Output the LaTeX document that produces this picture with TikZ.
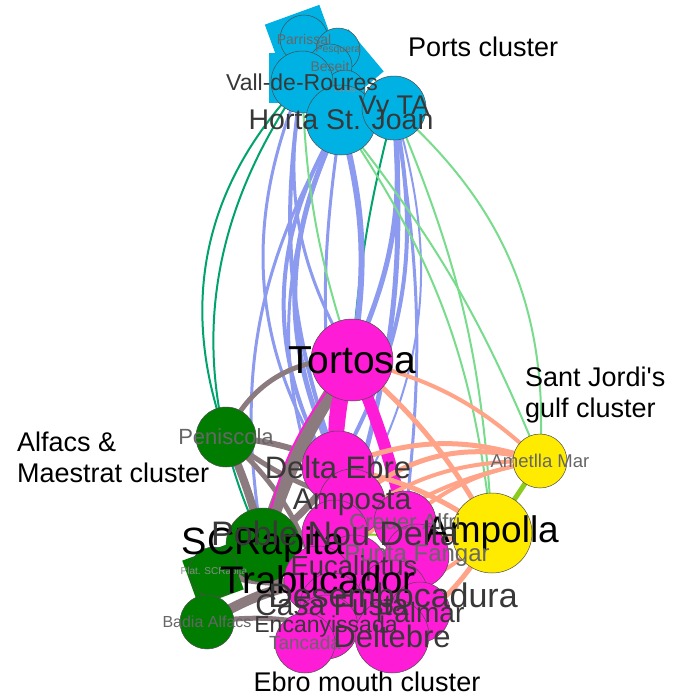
\documentclass[tikz,border=0pt]{standalone}
\usepackage{fontspec}
\setmainfont{Liberation Sans}
\usetikzlibrary{positioning}

\begin{document}
\begin{tikzpicture}[x=1pt,y=1pt,
  vtx/.style={circle,draw=black!70,line width=0.5pt,inner sep=0pt,minimum size=#1},
  sqv/.style={rectangle,inner sep=0pt,minimum size=#1},
  lbl/.style={font=\fontsize{#1}{#1}\selectfont,inner sep=0pt},
  title/.style={font=\fontsize{27}{31}\selectfont,align=left,inner sep=0pt,text=black},
  lnk/.style={line width=#1}
]
% colours of the four clusters and of the links
\definecolor{portv}{HTML}{00B2E3}
\definecolor{magv}{HTML}{FF1CD6}
\definecolor{alfv}{HTML}{007D00}
\definecolor{gulfv}{HTML}{FFEB00}
\definecolor{bluel}{HTML}{8C9BEF}
\definecolor{teall}{HTML}{00A36C}
\definecolor{lgreenl}{HTML}{78DC8C}
\definecolor{grayl}{HTML}{8C7B7E}
\definecolor{salmonl}{HTML}{FFA488}
\definecolor{limel}{HTML}{8ACB1E}
\definecolor{dgray}{HTML}{383838}
\definecolor{mgray}{HTML}{666666}
\definecolor{lgray}{HTML}{8C8C8C}

\fill[white] (0,0) rectangle (686,-697);
\useasboundingbox (0,0) rectangle (686,-697);

% vertex positions
% Ports cluster
\coordinate (parrissal) at (304,-39);
\coordinate (pesquera) at (338,-50);
\coordinate (beseit) at (330,-66);
\coordinate (arnes) at (345,-90);
\coordinate (vall) at (302,-82);
\coordinate (horta) at (341,-120);
\coordinate (vyta) at (394,-108);
% Alfacs & Maestrat cluster
\coordinate (peniscola) at (226,-437);
\coordinate (scrapita) at (263,-545);
\coordinate (platscr) at (214,-572);
\coordinate (badia) at (207,-622);
% Sant Jordi's gulf cluster
\coordinate (ametlla) at (540,-461);
\coordinate (ampolla) at (492,-533);
% Ebro mouth cluster
\coordinate (tortosa) at (352,-360);
\coordinate (deltaebre) at (338,-467);
\coordinate (amposta) at (352,-502);
\coordinate (noudelta) at (335,-533);
\coordinate (creuer) at (405,-522);
\coordinate (puntafangar) at (417,-556);
\coordinate (eucaliptus) at (354,-568);
\coordinate (trabucador) at (318,-580);
\coordinate (desembocadura) at (393,-595);
\coordinate (casafusta) at (332,-605);
\coordinate (palmar) at (420,-612);
\coordinate (encanyissada) at (326,-627);
\coordinate (tancada) at (305,-643);
\coordinate (deltebre) at (392,-636);

% links Ports -> Alfacs (dark green)
\foreach \a/\b/\bd in {vall/peniscola/-32,vall/scrapita/-30,vyta/tortosa/-5} {
  \draw[teall,lnk=2] (\a) to[bend left=\bd] (\b);
}
% links Ports -> Ebro mouth (blue)
\foreach \a/\b/\w/\bd in {horta/deltaebre/5/-26,horta/amposta/4/-34,vall/deltaebre/4/-14,
  horta/tortosa/6/12,vyta/tortosa/5/15,vyta/deltaebre/4/20,horta/noudelta/3/-24,
  vyta/amposta/5/10,horta/scrapita/3/-20,vyta/creuer/3/8,vall/tortosa/3/-20,vyta/noudelta/2/25,
  horta/deltaebre/3/-8,vall/amposta/3/-30} {
  \draw[bluel,lnk=\w] (\a) to[bend left=\bd] (\b);
}
% links Ports -> gulf (light green)
\foreach \a/\b/\bd in {vyta/ametlla/26,vyta/ampolla/10,vall/tortosa/-8,horta/ampolla/14,horta/ametlla/8} {
  \draw[lgreenl,lnk=2] (\a) to[bend left=\bd] (\b);
}
% links Alfacs -> Ebro mouth (grey)
\foreach \a/\b/\w/\bd in {tortosa/peniscola/5/-35,tortosa/scrapita/14/-8,peniscola/deltaebre/6/10,
  peniscola/amposta/5/-10,peniscola/scrapita/8/5,peniscola/trabucador/5/15,scrapita/deltaebre/7/-10,
  platscr/trabucador/8/-10,badia/trabucador/10/10,badia/encanyissada/5/10} {
  \draw[grayl,lnk=\w] (\a) to[bend left=\bd] (\b);
}
% links inside Ebro mouth (magenta)
\foreach \a/\b/\w/\bd in {tortosa/amposta/12/-25,tortosa/creuer/12/5,tortosa/deltaebre/8/-5,tortosa/scrapita/2/-15} {
  \draw[magv,lnk=\w] (\a) to[bend left=\bd] (\b);
}
% links Ebro mouth -> gulf (salmon)
\foreach \a/\b/\w/\bd in {deltaebre/ametlla/5/20,tortosa/ametlla/4/15,amposta/ametlla/5/28,
  noudelta/ametlla/4/20,deltaebre/ampolla/5/12,tortosa/ampolla/5/10,eucaliptus/ampolla/4/8,
  deltebre/ampolla/5/-15,desembocadura/ampolla/4/-10,trabucador/ametlla/4/18,creuer/ametlla/4/15} {
  \draw[salmonl,lnk=\w] (\a) to[bend left=\bd] (\b);
}
% links inside gulf (lime)
\draw[limel,lnk=5] (ametlla) -- (ampolla);
\draw[limel,lnk=2] (ampolla) to[bend left=3] (noudelta);

% square vertices
\node[sqv=58,fill=portv,rotate=20] (sqport1) at (302,-42) {};
\node[sqv=55,fill=portv,rotate=40] (sqport2) at (345,-68) {};
\node[sqv=50,fill=portv] (sqport3) at (294,-78) {};
\node[sqv=48,fill=alfv,rotate=20] (sqalf) at (213,-575) {};

% round vertices
\foreach \n/\d in {parrissal/48,pesquera/44,beseit/44,arnes/40,vall/62,horta/70,vyta/64} {
  \node[vtx=\d,fill=portv] (\n-v) at (\n) {};
}
\foreach \n/\d in {peniscola/60,scrapita/74,platscr/50,badia/54} {
  \node[vtx=\d,fill=alfv] (\n-v) at (\n) {};
}
\foreach \n/\d in {tortosa/82,deltaebre/72,amposta/66,creuer/62,noudelta/66,puntafangar/64,
  eucaliptus/66,trabucador/68,desembocadura/70,casafusta/64,palmar/60,encanyissada/64,tancada/60,deltebre/74} {
  \node[vtx=\d,fill=magv] (\n-v) at (\n) {};
}
\foreach \n/\d in {ametlla/54,ampolla/80} {
  \node[vtx=\d,fill=gulfv] (\n-v) at (\n) {};
}

% vertex labels
\foreach \n/\t/\s/\c in {parrissal/Parrissal/14/mgray,pesquera/Pesquera/10.5/mgray,beseit/Beseit/14/mgray,
  arnes/Arnes/8/lgray,vall/Vall-de-Roures/23/dgray,horta/Horta St. Joan/28.5/dgray,vyta/Vy TA/27/dgray,
  peniscola/Peniscola/22/mgray,scrapita/SCRapita/38/black,platscr/Plat. SCRapita/10/lgray,
  badia/Badia Alfacs/16/mgray,ametlla/Ametlla Mar/18.5/mgray,ampolla/Ampolla/37/black,
  tortosa/Tortosa/39/black,deltaebre/Delta Ebre/31/dgray,amposta/Amposta/30/dgray,
  creuer/Creuer Alfri/22/mgray,noudelta/Poble Nou Delta/34/dgray,puntafangar/Punta Fangar/24/mgray,
  eucaliptus/Eucaliptus/27.5/dgray,trabucador/Trabucador/38.5/black,desembocadura/Desembocadura/34/dgray,
  casafusta/Casa Fusta/30/dgray,palmar/Palmar/28/dgray,encanyissada/Encanyissada/23/dgray,
  tancada/Tancada/19/mgray,deltebre/Deltebre/31/dgray} {
  \node[lbl=\s,text=\c] (\n-l) at (\n) {\t};
}

% cluster titles
\node[title,anchor=west] (t-ports) at (408,-47) {Ports cluster};
\node[title,anchor=west] (t-alfacs) at (17,-457) {Alfacs \&\\Maestrat cluster};
\node[title,anchor=west] (t-gulf) at (525,-395) {Sant Jordi\textquotesingle s\\gulf cluster};
\node[title] (t-ebro) at (367,-682) {Ebro mouth cluster};
\end{tikzpicture}
\end{document}
